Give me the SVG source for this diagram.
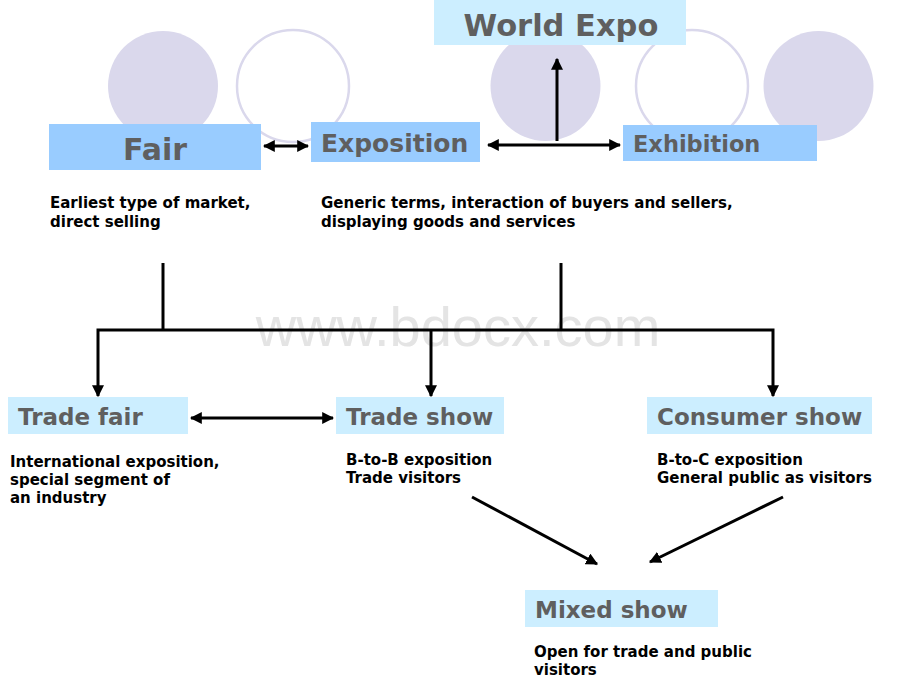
<svg xmlns="http://www.w3.org/2000/svg" width="920" height="690" viewBox="0 0 920 690">
<defs>
<marker id="ah" viewBox="0 0 10 10" refX="9" refY="5" markerWidth="4" markerHeight="4" orient="auto-start-reverse" markerUnits="strokeWidth">
<path d="M0,0 L10,5 L0,10 z" fill="#000"/>
</marker>
<style>
.fc{fill:#dad8ec}
.oc{fill:none;stroke:#dad8ec;stroke-width:2.5}
.b1{fill:#99ccff}
.b2{fill:#cceeff}
.t{font-family:"DejaVu Sans",Verdana,sans-serif;font-weight:bold;fill:#5f5f5f}
.d{font-family:"DejaVu Sans",Verdana,sans-serif;font-weight:bold;font-size:15px;fill:#000}
.c{fill:none;stroke:#000;stroke-width:3}
</style>
</defs>
<rect width="920" height="690" fill="#fff"/>
<g id="decor">
<circle class="fc" cx="163" cy="86" r="55"/>
<circle class="oc" cx="293" cy="86" r="56"/>
<circle class="fc" cx="545.5" cy="86" r="55"/>
<circle class="oc" cx="692" cy="86" r="56"/>
<circle class="fc" cx="818.5" cy="86" r="55"/>
</g>
<text x="458" y="346" font-family="Liberation Sans, Arial, sans-serif" font-size="56" fill="#e4e4e4" text-anchor="middle">www.bdocx.com</text>
<g id="world-expo">
<rect class="b2" x="434" y="0" width="252" height="45"/>
<text class="t" x="561" y="36" font-size="30.5" text-anchor="middle">World Expo</text>
</g>
<g id="fair">
<rect class="b1" x="49" y="124" width="212" height="46"/>
<text class="t" x="155" y="160" font-size="30" text-anchor="middle">Fair</text>
<text class="d" x="50" y="208">Earliest type of market,</text>
<text class="d" x="50" y="227">direct selling</text>
</g>
<g id="exposition">
<rect class="b1" x="311" y="122" width="169" height="40"/>
<text class="t" x="321" y="152" font-size="25">Exposition</text>
<text class="d" x="321" y="208">Generic terms, interaction of buyers and sellers,</text>
<text class="d" x="321" y="227">displaying goods and services</text>
</g>
<g id="exhibition">
<rect class="b1" x="623" y="125" width="194" height="36"/>
<text class="t" x="633" y="152" font-size="22.5">Exhibition</text>
</g>
<g id="trade-fair">
<rect class="b2" x="8" y="397" width="180" height="37"/>
<text class="t" x="18" y="425" font-size="23">Trade fair</text>
<text class="d" x="10" y="467">International exposition,</text>
<text class="d" x="10" y="485">special segment of</text>
<text class="d" x="10" y="503">an industry</text>
</g>
<g id="trade-show">
<rect class="b2" x="336" y="397" width="168" height="37"/>
<text class="t" x="346" y="425" font-size="23">Trade show</text>
<text class="d" x="346" y="465">B-to-B exposition</text>
<text class="d" x="346" y="483">Trade visitors</text>
</g>
<g id="consumer-show">
<rect class="b2" x="647" y="397" width="225" height="37"/>
<text class="t" x="657" y="425" font-size="23">Consumer show</text>
<text class="d" x="657" y="465">B-to-C exposition</text>
<text class="d" x="657" y="483">General public as visitors</text>
</g>
<g id="mixed-show">
<rect class="b2" x="525" y="590" width="193" height="37"/>
<text class="t" x="535" y="618" font-size="23">Mixed show</text>
<text class="d" x="534" y="657">Open for trade and public</text>
<text class="d" x="534" y="675">visitors</text>
</g>
<g id="connectors">
<line class="c" x1="264" y1="146" x2="308" y2="146" marker-start="url(#ah)" marker-end="url(#ah)"/>
<line class="c" x1="488" y1="145" x2="620" y2="145" marker-start="url(#ah)" marker-end="url(#ah)"/>
<line class="c" x1="557" y1="141" x2="557" y2="59" marker-end="url(#ah)"/>
<line class="c" x1="163" y1="263" x2="163" y2="330"/>
<line class="c" x1="561" y1="263" x2="561" y2="330"/>
<polyline class="c" points="98,396 98,330 773,330 773,396" fill="none" marker-start="url(#ah)" marker-end="url(#ah)"/>
<line class="c" x1="431" y1="330" x2="431" y2="396" marker-end="url(#ah)"/>
<line class="c" x1="191" y1="418" x2="333" y2="418" marker-start="url(#ah)" marker-end="url(#ah)"/>
<line class="c" x1="472" y1="497" x2="597" y2="564" marker-end="url(#ah)"/>
<line class="c" x1="783" y1="497" x2="650" y2="562" marker-end="url(#ah)"/>
</g>
</svg>
